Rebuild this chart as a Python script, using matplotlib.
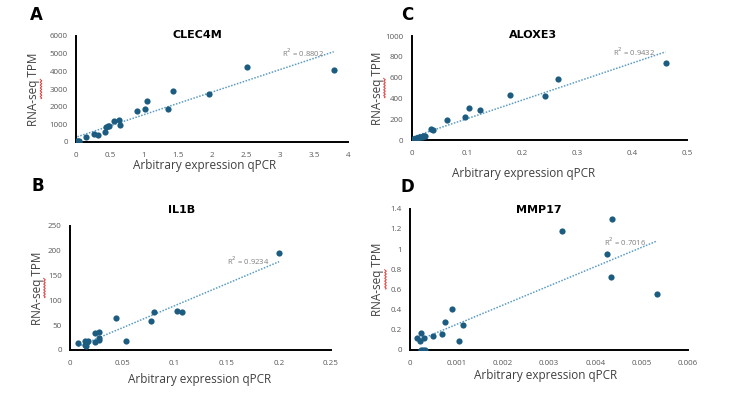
import numpy as np
import matplotlib
matplotlib.use("Agg")
import matplotlib.pyplot as plt
from matplotlib.lines import Line2D

# ---------------- data ----------------
clec4m_x = [0.02, 0.03, 0.04, 0.05, 0.14, 0.26, 0.33, 0.42, 0.44, 0.47, 0.49, 0.565,
            0.63, 0.65, 0.90, 1.02, 1.04, 1.35, 1.43, 1.96, 2.52, 3.79]
clec4m_y = [30, 80, 60, 20, 263, 470, 394, 563, 844, 880, 900, 1200,
            1257, 938, 1763, 1894, 2326, 1876, 2870, 2720, 4260, 4050]

aloxe3_x = [0.003, 0.005, 0.007, 0.009, 0.011, 0.013, 0.015, 0.018, 0.020, 0.022, 0.025,
            0.035, 0.038, 0.0648, 0.0969, 0.1047, 0.124, 0.179, 0.2415, 0.2666, 0.461]
aloxe3_y = [5, 10, 15, 18, 22, 25, 28, 32, 35, 38, 42,
            109, 99, 192, 224, 310, 288, 428, 422, 591, 741]

il1b_x = [0.0077, 0.014, 0.0143, 0.015, 0.0166, 0.0175, 0.0239, 0.0239, 0.0274, 0.028,
          0.0277, 0.0443, 0.0536, 0.078, 0.0804, 0.1024, 0.107, 0.2003]
il1b_y = [13.5, 18, 11, 7.4, 16, 19, 15.5, 34, 21, 25,
          36, 64, 18, 59, 77.5, 79, 77.5, 196]

mmp17_x = [0.00016, 0.00021, 0.00024, 0.00023, 0.00027, 0.00032, 0.0003, 0.0005, 0.00068,
           0.00076, 0.00091, 0.00105, 0.00115, 0.00327, 0.00425, 0.00434, 0.00437, 0.00533]
mmp17_y = [0.123, 0.089, 0.166, 0.0, 0.0, 0.0, 0.123, 0.139, 0.162,
           0.281, 0.411, 0.089, 0.248, 1.182, 0.947, 0.722, 1.295, 0.550]

panels = [
    dict(letter="A", title="CLEC4M", x=clec4m_x, y=clec4m_y, r2="R$^2$ = 0.8802",
         xlim=(0, 4), xticks=[0, 0.5, 1, 1.5, 2, 2.5, 3, 3.5, 4],
         xtl=["0", "0.5", "1", "1.5", "2", "2.5", "3", "3.5", "4"],
         ylim=(0, 6000), yticks=[0, 1000, 2000, 3000, 4000, 5000, 6000],
         ytl=["0", "1000", "2000", "3000", "4000", "5000", "6000"]),
    dict(letter="C", title="ALOXE3", x=aloxe3_x, y=aloxe3_y, r2="R$^2$ = 0.9432",
         xlim=(0, 0.5), xticks=[0, 0.1, 0.2, 0.3, 0.4, 0.5],
         xtl=["0", "0.1", "0.2", "0.3", "0.4", "0.5"],
         ylim=(0, 1000), yticks=[0, 200, 400, 600, 800, 1000],
         ytl=["0", "200", "400", "600", "800", "1000"]),
    dict(letter="B", title="IL1B", x=il1b_x, y=il1b_y, r2="R$^2$ = 0.9234",
         xlim=(0, 0.25), xticks=[0, 0.05, 0.1, 0.15, 0.2, 0.25],
         xtl=["0", "0.05", "0.1", "0.15", "0.2", "0.25"],
         ylim=(0, 250), yticks=[0, 50, 100, 150, 200, 250],
         ytl=["0", "50", "100", "150", "200", "250"]),
    dict(letter="D", title="MMP17", x=mmp17_x, y=mmp17_y, r2="R$^2$ = 0.7016",
         xlim=(0, 0.006), xticks=[0, 0.001, 0.002, 0.003, 0.004, 0.005, 0.006],
         xtl=["0", "0.001", "0.002", "0.003", "0.004", "0.005", "0.006"],
         ylim=(0, 1.4), yticks=[0, 0.2, 0.4, 0.6, 0.8, 1.0, 1.2, 1.4],
         ytl=["0", "0.2", "0.4", "0.6", "0.8", "1", "1.2", "1.4"]),
]

# ---------------- layout (pixels) ----------------
W, H = 732, 393
# (left, right, top, bottom) of axes in pixels
boxes = [(76, 348, 36, 142), (411.7, 687, 36, 140), (70, 331, 226, 350), (410, 688, 208.7, 350)]
letter_pos = [(36, 15), (407, 15), (37.5, 186), (407, 187)]
title_pos = [(197.5, 35), (533, 35), (181.7, 210), (539, 210)]
xlabel_pos = [(205, 166), (524, 173), (200, 379), (546, 376)]
ylabel_x = [33.5, 377, 37, 378]
r2_pos = [(282, 53), (613, 52), (227, 261), (604, 242)]

plt.rcParams['font.family'] = ['Open Sans', 'DejaVu Sans']
fig = plt.figure(figsize=(W / 100, H / 100), dpi=100)

def fx(px):
    return px / W

def fy(py):
    return 1 - py / H

marker_color = "#1b5c80"
trend_color = "#5b9cc4"
tick_color = "#595959"
label_color = "#404040"
ylab_texts = []

for p, box, lp, tp, xp, yx, rp in zip(panels, boxes, letter_pos, title_pos, xlabel_pos,
                                      ylabel_x, r2_pos):
    l, r, t, b = box
    ax = fig.add_axes([fx(l), fy(b), (r - l) / W, (b - t) / H])
    x = np.array(p["x"]); y = np.array(p["y"])
    ax.scatter(x, y, s=20, color=marker_color, zorder=3, linewidths=0)
    k, c = np.polyfit(x, y, 1)
    xs = np.array([x.min(), x.max()])
    ax.plot(xs, k * xs + c, linestyle=(0, (1, 1)), color=trend_color, lw=1.1, zorder=2)
    ax.set_xlim(*p["xlim"]); ax.set_ylim(*p["ylim"])
    ax.set_xticks(p["xticks"]); ax.set_xticklabels(p["xtl"])
    ax.set_yticks(p["yticks"]); ax.set_yticklabels(p["ytl"])
    ax.tick_params(length=0, labelsize=5.8, labelcolor=tick_color)
    ax.tick_params(axis='x', pad=7)
    ax.tick_params(axis='y', pad=6)
    for s in ["top", "right"]:
        ax.spines[s].set_visible(False)
    for s in ["left", "bottom"]:
        ax.spines[s].set_linewidth(1.4)
        ax.spines[s].set_color("black")
    ax.patch.set_alpha(0)
    ylab = fig.text(fx(yx), fy((t + b) / 2), "RNA-seq TPM", fontsize=8.5, color=label_color,
                    rotation=90, ha="center", va="center")
    ylab_texts.append(ylab)
    fig.text(fx(lp[0]), fy(lp[1]), p["letter"], fontsize=12, fontweight="bold",
             ha="center", va="center", family="DejaVu Sans")
    fig.text(fx(tp[0]), fy(tp[1]), p["title"], fontsize=8, fontweight="bold",
             ha="center", va="center", family="DejaVu Sans")
    fig.text(fx(xp[0]), fy(xp[1]), "Arbitrary expression qPCR", fontsize=8.5,
             color=label_color, ha="center", va="center")
    fig.text(fx(rp[0]), fy(rp[1]), p["r2"], fontsize=5.5, color="#7f7f7f",
             ha="left", va="center")

# red spell-check squiggle under "seq" in each y label
fig.canvas.draw()
renderer = fig.canvas.get_renderer()
for txt in ylab_texts:
    bb = txt.get_window_extent(renderer)
    prop = txt.get_fontproperties()
    w1 = renderer.get_text_width_height_descent("RNA-", prop, ismath=False)[0]
    w2 = renderer.get_text_width_height_descent("RNA-seq", prop, ismath=False)[0]
    y0 = bb.y0 + w1
    y1 = bb.y0 + w2
    sy = np.linspace(y0, y1, 40)
    sx = bb.x1 + 1.0 + 0.8 * np.sin((sy - y0) * 2.2)
    fig.add_artist(Line2D(sx / W, sy / H, color="#e04040", lw=0.7,
                          transform=fig.transFigure))

fig.savefig("out.png", dpi=100)
